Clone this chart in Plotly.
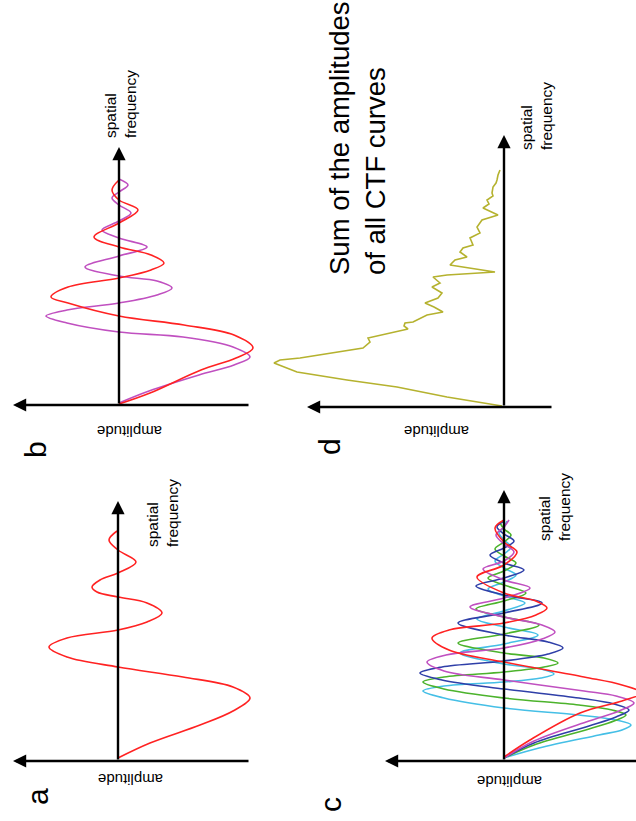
import plotly.graph_objects as go

W, H = 636, 821

# ---- panel a: one CTF curve (spatial frequency, amplitude) ----
freq_a = [3, 18, 36, 50, 63, 74, 84, 94, 104, 114, 123, 131, 139, 148, 158, 164,
          169, 174, 181, 188, 199, 211, 221, 230]
amp_a = [0, -32, -82, -115, -132, -115, -65, 0, 51, 69, 51, 0, -29, -44, -29, 0,
         21, 26, 18, 0, -18, 0, 9, 1]

# ---- panel b: two CTF curves ----
freq_b_red = [1, 12, 35, 47, 57, 70, 80, 89, 102, 108, 118, 127, 135, 142, 150,
              158, 168, 182, 195, 205, 215, 225]
amp_b_red = [0, -31, -82, -117, -134, -115, -65, 0, 51, 68, 51, 0, -32, -45, -32,
             0, 25, 0, -19, 0, 7, 0]
freq_b_mag = [2, 14, 30, 40, 48, 58, 68, 73, 82, 89, 95, 102, 110, 117, 124, 129,
              138, 149, 158, 167, 175, 184, 192, 200, 207, 213, 220, 226]
amp_b_mag = [0, -30, -80, -115, -131, -114, -64, 0, 52, 73, 52, 0, -38, -53, -38, 0,
             34, 0, -28, 0, 17, 0, -12, 0, 7, 0, -9, 0]

# ---- panel c: five CTF curves at increasing defocus ----
freq_c_red = [4, 21, 48, 60, 68, 76, 84, 99, 111, 123, 131, 138, 146, 153, 160,
              168, 184, 196, 209, 219, 233, 241]
amp_c_red = [0, -26, -76, -118, -138, -118, -80, 0, 55, 72, 55, 0, -32, -43, -32,
             0, 27, 0, -13, 0, 9, 0]
freq_c_mag = [3, 20, 40, 50, 58, 65, 70, 81, 90, 99, 106, 113, 122, 129, 136, 144,
              154, 163, 173, 181, 192, 200, 209, 217, 226, 234, 241]
amp_c_mag = [0, -30, -85, -115, -130, -112, -80, 0, 60, 77, 58, 0, -38, -51, -38, 0,
             34, 0, -26, 0, 21, 0, -10, 0, 8, 0, -5]
freq_c_blue = [3, 18, 35, 44, 51, 57, 63, 72, 81, 88, 94, 100, 107, 113, 119, 126,
               138, 148, 158, 166, 175, 183, 191, 198, 206, 213, 220, 227, 234, 240]
amp_c_blue = [0, -30, -85, -112, -125, -110, -75, 0, 62, 84, 62, 0, -44, -59, -44, 0,
              46, 0, -38, 0, 28, 0, -20, 0, 14, 0, -10, 0, 7, 0]
freq_c_green = [3, 16, 32, 40, 46, 51, 56, 63, 72, 79, 84, 89, 94, 98, 103, 108,
                118, 127, 136, 144, 152, 160, 168, 176, 183, 190, 198, 205, 212,
                219, 226, 232, 238]
amp_c_green = [0, -30, -85, -110, -122, -108, -75, 0, 60, 81, 60, 0, -40, -54, -40, 0,
               46, 0, -35, 0, 28, 0, -22, 0, 16, 0, -12, 0, 9, 0, -7, 0, 4]
freq_c_cyan = [3, 13, 26, 31, 36, 41, 46, 53, 63, 70, 75, 79, 83, 87, 92, 97, 108,
               117, 126, 134, 142, 150, 158, 165, 172, 179, 186, 193, 200, 207,
               214, 221, 228, 234, 240]
amp_c_cyan = [0, -35, -95, -118, -127, -112, -75, 0, 60, 81, 60, 0, -37, -50, -37, 0,
              44, 0, -34, 0, 27, 0, -21, 0, 16, 0, -12, 0, 9, 0, -7, 0, 5, 0, -3]

# ---- panel d: summed CTF amplitudes ----
freq_d = [1, 10, 20, 27, 35, 44, 47, 49, 59, 62, 65, 69, 74, 78, 81, 84, 85, 92,
          95, 100, 104, 109, 114, 120, 124, 130, 132, 135, 142, 147, 150, 155, 159,
          162, 169, 174, 180, 187, 192, 199, 203, 207, 211, 214, 220, 224, 227,
          232, 237]
amp_d = [2, 57, 107, 157, 207, 230, 224, 204, 141, 138, 134, 136, 114, 96, 100, 99,
         91, 77, 61, 70, 79, 66, 62, 72, 64, 71, 57, 9, 54, 49, 37, 44, 41, 31, 34,
         24, 27, 22, 6, 21, 15, 17, 11, 12, 11, 8, 7, 6, 4]

RED, MAG, BLUE, GREEN, CYAN, OLIVE = ("#ff2222", "#c050c0", "#2f3fa8",
                                      "#4cb32c", "#45bfe6", "#b5b22f")
FONT = "Liberation Sans, Arial, sans-serif"

# panel layout in page pixels: origin of the axes and the panel box (x0, y0, x1, y1)
panels = [
    dict(name="a", origin=(118, 761), box=(0, 440, 300, 821),
         amp_tip=105, amp_end=-132, freq_tip=260),
    dict(name="b", origin=(119, 405), box=(0, 0, 260, 440),
         amp_tip=106, amp_end=-131, freq_tip=258),
    dict(name="c", origin=(504, 761), box=(300, 440, 636, 821),
         amp_tip=119, amp_end=-140, freq_tip=271),
    dict(name="d", origin=(504, 407), box=(260, 0, 636, 440),
         amp_tip=197, amp_end=-49, freq_tip=272),
]

curves = {
    "a": [(freq_a, amp_a, RED, "spline")],
    "b": [(freq_b_mag, amp_b_mag, MAG, "spline"), (freq_b_red, amp_b_red, RED, "spline")],
    "c": [(freq_c_cyan, amp_c_cyan, CYAN, "spline"),
          (freq_c_green, amp_c_green, GREEN, "spline"),
          (freq_c_blue, amp_c_blue, BLUE, "spline"),
          (freq_c_mag, amp_c_mag, MAG, "spline"),
          (freq_c_red, amp_c_red, RED, "spline")],
    "d": [(freq_d, amp_d, OLIVE, "linear")],
}

fig = go.Figure()
annotations = []
layout_axes = {}

for i, p in enumerate(panels, start=1):
    sfx = "" if i == 1 else str(i)
    xa, ya = "x" + sfx, "y" + sfx
    ox, oy = p["origin"]
    x0, y0, x1, y1 = p["box"]
    # amplitude runs horizontally (positive to the left), frequency runs upward
    layout_axes["xaxis" + sfx] = dict(
        domain=[x0 / W, x1 / W], range=[ox - x0, ox - x1], visible=False,
        anchor=ya, fixedrange=True)
    layout_axes["yaxis" + sfx] = dict(
        domain=[(H - y1) / H, (H - y0) / H], range=[oy - y1, oy - y0],
        visible=False, anchor=xa, fixedrange=True)

    for fr, am, col, shape in curves[p["name"]]:
        fig.add_trace(go.Scatter(
            x=am, y=fr, mode="lines", xaxis=xa, yaxis=ya,
            line=dict(color=col, width=1.6, shape=shape, smoothing=1.0),
            hoverinfo="skip", showlegend=False))

    # amplitude axis arrow
    annotations.append(dict(
        x=p["amp_tip"], y=0, ax=p["amp_end"], ay=0, xref=xa, yref=ya,
        axref=xa, ayref=ya, text="", showarrow=True, arrowhead=2,
        arrowsize=1.1, arrowwidth=2.4, arrowcolor="black",
        standoff=0, startstandoff=0))
    # spatial frequency axis arrow
    annotations.append(dict(
        x=0, y=p["freq_tip"], ax=0, ay=0, xref=xa, yref=ya,
        axref=xa, ayref=ya, text="", showarrow=True, arrowhead=2,
        arrowsize=1.1, arrowwidth=2.4, arrowcolor="black",
        standoff=0, startstandoff=0))


def P(x, y):
    return x / W, 1 - y / H


def text(label, x, y, size, angle, xanchor="center", yanchor="middle", align="center"):
    px, py = P(x, y)
    annotations.append(dict(
        x=px, y=py, xref="paper", yref="paper", text=label, showarrow=False,
        textangle=angle, xanchor=xanchor, yanchor=yanchor, align=align,
        font=dict(family=FONT, size=size, color="black")))


# panel letters
for lab, x, y in [("a", 37, 797), ("b", 35, 450), ("c", 330, 805), ("d", 329, 447)]:
    text(lab, x, y, 30, -90)

# amplitude labels
for x, y in [(131, 780), (130, 432), (510, 782), (437, 431)]:
    text("amplitude", x, y, 15, 180)

# spatial frequency labels
for x, y in [(162, 549), (120, 140), (554, 543), (537, 152)]:
    text("spatial<br>frequency", x, y, 15.5, -90, yanchor="bottom", align="left")

text("Sum of the amplitudes<br>of all CTF curves", 358, 277, 27.5, -90,
     yanchor="bottom", align="left")

fig.update_layout(
    width=W, height=H, margin=dict(l=0, r=0, t=0, b=0),
    paper_bgcolor="white", plot_bgcolor="rgba(0,0,0,0)",
    annotations=annotations, **layout_axes)

fig.write_html("out.html", config={"displayModeBar": False})
